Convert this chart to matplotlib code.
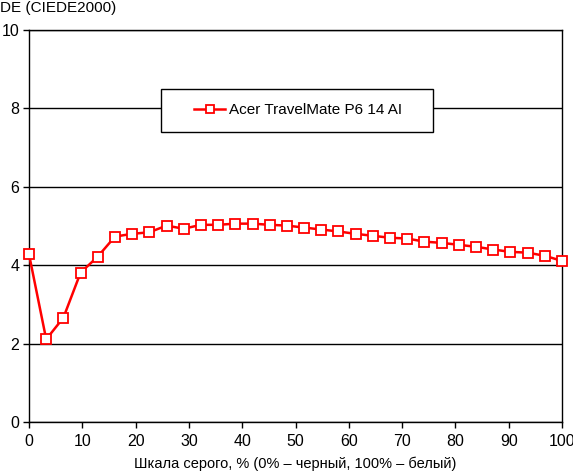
#import
import matplotlib
matplotlib.use("Agg")
import matplotlib.pyplot as plt
from matplotlib.patches import Rectangle

#-------------------------------------------------------------------------------

#data
gray_level = [i * 100 / 31 for i in range(32)]
delta_e = [4.28, 2.11, 2.66, 3.81, 4.22, 4.73, 4.80, 4.84,
           5.01, 4.93, 5.03, 5.03, 5.06, 5.06, 5.03, 5.01,
           4.96, 4.91, 4.86, 4.80, 4.75, 4.70, 4.68, 4.60,
           4.57, 4.52, 4.47, 4.40, 4.34, 4.32, 4.24, 4.11]
series_name = "Acer TravelMate P6 14 AI"
x_ticks = [0, 10, 20, 30, 40, 50, 60, 70, 80, 90, 100]
y_ticks = [0, 2, 4, 6, 8, 10]

#-------------------------------------------------------------------------------

#graphics settings
plt.rcParams['font.family'] = ['Liberation Sans', 'DejaVu Sans']
plt.rcParams['font.size'] = 11

fig = plt.figure(figsize=(5.73, 4.72), dpi=100)
ax = fig.add_axes([29 / 573, 1 - 422 / 472, 533 / 573, 392 / 472])

ax.set_xlim(0, 100)
ax.set_ylim(0, 10)
ax.set_xticks(x_ticks)
ax.set_yticks(y_ticks)
ax.tick_params(direction='out', length=4, width=1, colors='black', pad=3,
               labelsize=11.5)
ax.tick_params(axis='x', pad=5)
ax.grid(axis='y', color='black', linewidth=1)
ax.set_axisbelow(True)
for s in ax.spines.values():
    s.set_linewidth(1)
    s.set_color('black')

ax.plot(gray_level, delta_e, color='red', linewidth=1.8, marker='s',
        markersize=7.5, markerfacecolor='white', markeredgecolor='red',
        markeredgewidth=1.3, label=series_name, zorder=3, clip_on=False)

#legend box
box = Rectangle((0.2477, 0.740), 0.5103, 0.1095, transform=ax.transAxes,
                facecolor='white', edgecolor='black', linewidth=1, zorder=4)
ax.add_patch(box)
leg = ax.legend(loc='center', bbox_to_anchor=(0.5056, 0.795), frameon=False,
                handlelength=2.0, handletextpad=0.3, markerscale=0.8,
                borderaxespad=0, borderpad=0)
leg.set_zorder(5)

fig.text(0, 1 - 8 / 472, "DE (CIEDE2000)", ha='left', va='center')
ax.set_xlabel("Шкала серого, % (0% – черный, 100% – белый)", fontsize=10.5,
              labelpad=5)

plt.savefig('out.png', dpi=100)
